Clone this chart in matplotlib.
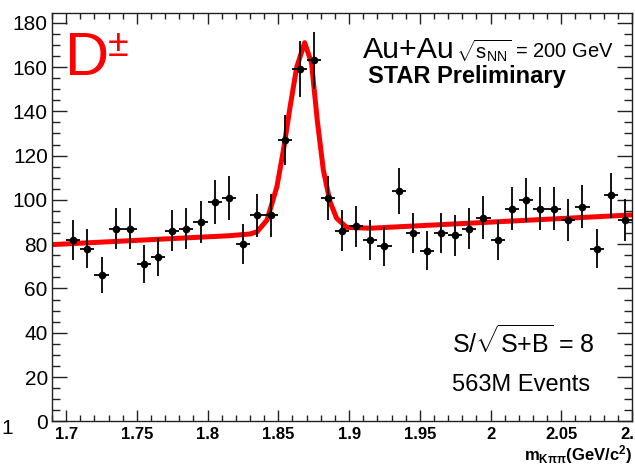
import matplotlib
matplotlib.use("Agg")
import matplotlib.pyplot as plt
from matplotlib.ticker import MultipleLocator

# invariant mass bins (GeV/c^2) and counts per bin
mass = [1.705, 1.715, 1.725, 1.735, 1.745, 1.755, 1.765, 1.775, 1.785, 1.795,
        1.805, 1.815, 1.825, 1.835, 1.845, 1.855, 1.865, 1.875, 1.885, 1.895,
        1.905, 1.915, 1.925, 1.935, 1.945, 1.955, 1.965, 1.975, 1.985, 1.995,
        2.005, 2.015, 2.025, 2.035, 2.045, 2.055, 2.065, 2.075, 2.085, 2.095]
counts = [82, 78, 66, 87, 87, 71, 74, 86, 87, 90,
          99, 101, 80, 93, 93, 127, 159, 163, 101, 86,
          88, 82, 79, 104, 85, 77, 85, 84, 87, 92,
          82, 96, 100, 96, 96, 91, 97, 78, 102, 91]
errors = [9.0, 8.8, 8.1, 9.3, 9.3, 8.4, 8.6, 9.3, 9.3, 9.5,
          9.9, 10.0, 8.9, 9.6, 9.6, 11.3, 12.6, 12.8, 10.0, 9.3,
          9.4, 9.1, 8.9, 10.2, 9.2, 8.8, 9.2, 9.2, 9.3, 9.6,
          9.1, 9.8, 10.0, 9.8, 9.8, 9.5, 9.8, 8.8, 10.1, 9.5]
half_bin = 0.005

# fit curve
fit_x = [1.690, 1.815, 1.830, 1.835, 1.842, 1.849, 1.8536, 1.8583, 1.863,
         1.8686, 1.8735, 1.8775, 1.8818, 1.8865, 1.8912, 1.8983, 1.915, 2.100]
fit_y = [79.8, 83.8, 84.6, 85.6, 90.9, 106.0, 122.5, 142.0, 160.0,
         171.0, 161.7, 136.0, 113.5, 99.2, 91.7, 87.6, 87.2, 93.2]

xtick_vals = [1.7, 1.75, 1.8, 1.85, 1.9, 1.95, 2.0, 2.05, 2.1]
xtick_labels = ['1.7', '1.75', '1.8', '1.85', '1.9', '1.95', '2', '2.05', '2.1']

W, H = 635, 466


def px(x, y):
    # pixel position -> figure fraction
    return x / W, (H - y) / H


plt.rcParams['font.family'] = ['Liberation Sans', 'DejaVu Sans']
plt.rcParams['mathtext.fontset'] = 'custom'
plt.rcParams['mathtext.rm'] = 'Liberation Sans'
plt.rcParams['mathtext.it'] = 'Liberation Sans:italic'
plt.rcParams['mathtext.bf'] = 'Liberation Sans:bold'

fig = plt.figure(figsize=(W / 100, H / 100), dpi=100)
ax = fig.add_axes([52 / W, (H - 421.3) / H, 580 / W, 408.3 / H])

ax.plot(fit_x, fit_y, color='#ff0000', lw=3.6, solid_joinstyle='round', zorder=2)
ax.errorbar(mass, counts, yerr=errors, xerr=half_bin, fmt='o', color='black',
            ms=4.5, elinewidth=1.3, capsize=0, zorder=3)

ax.set_xlim(1.69, 2.1)
ax.set_ylim(0, 184.4)
ax.xaxis.set_minor_locator(MultipleLocator(0.01))
ax.yaxis.set_major_locator(MultipleLocator(20))
ax.yaxis.set_minor_locator(MultipleLocator(5))
ax.set_xticks(xtick_vals)
ax.set_xticklabels(xtick_labels)

ax.tick_params(axis='both', which='both', direction='in', top=True, right=True,
               width=1, color='#222222')
ax.tick_params(axis='y', which='major', length=11, labelsize=15, pad=3)
ax.tick_params(axis='y', which='minor', length=5.5)
ax.tick_params(axis='x', which='major', length=8, labelsize=12, pad=4)
ax.tick_params(axis='x', which='minor', length=4)
for lab in ax.get_xticklabels():
    lab.set_fontweight('bold')
for s in ax.spines.values():
    s.set_linewidth(1)
    s.set_color('#222222')

# labels and annotations
fig.text(*px(65, 75), 'D', color='#ff0000', fontsize=44, ha='left', va='baseline')
fig.text(*px(108, 56), '\u00b1', color='#ff0000', fontsize=27, ha='left', va='baseline')
fig.text(*px(363, 58), 'Au+Au', fontsize=21.8, ha='left', va='baseline')
fig.text(*px(456, 58), r'$\sqrt{\mathrm{s}_{\mathrm{NN}}}$ = 200 GeV', fontsize=14.5,
         ha='left', va='baseline')
fig.text(*px(367.7, 82.7), 'STAR Preliminary', fontsize=17, fontweight='bold',
         ha='left', va='baseline')
fig.text(*px(452, 353), r'S/$\sqrt{\mathrm{S{+}B}}$ = 8', fontsize=18, ha='left', va='baseline')
fig.text(*px(452, 391), '563M Events', fontsize=17, ha='left', va='baseline')
fig.text(*px(632, 460), r'$\mathbf{m_{K\pi\pi}(GeV/c^{2})}$', fontsize=12,
         ha='right', va='baseline')
fig.text(*px(7, 428), '1', fontsize=15, ha='center', va='center')

fig.savefig('out.png', dpi=100)
